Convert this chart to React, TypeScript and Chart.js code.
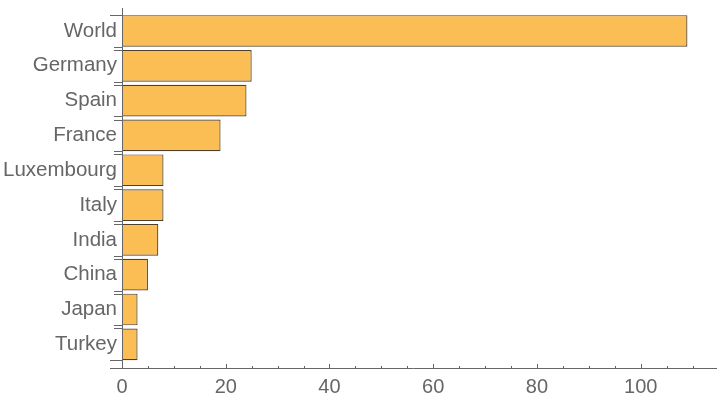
import React, { useEffect, useRef } from "react";
import { Chart, registerables } from "chart.js";

Chart.register(...registerables);

const categories = ["World", "Germany", "Spain", "France", "Luxembourg", "Italy", "India", "China", "Japan", "Turkey"];
const values = [109, 25, 24, 19, 8, 8, 7, 5, 3, 3];
const xTickValues = [0, 20, 40, 60, 80, 100];

const AXIS = "#666666";
const FONT = "'Liberation Sans', Arial, sans-serif";

const axesPlugin = {
  id: "mmaAxes",
  afterDatasetsDraw(chart: any) {
    const { ctx, chartArea } = chart;
    const xs = chart.scales.x;
    const x0 = xs.getPixelForValue(0);
    ctx.save();
    ctx.strokeStyle = AXIS;
    ctx.lineWidth = 1;
    const xl = Math.round(x0) + 0.5;
    // y axis line
    ctx.beginPath();
    ctx.moveTo(xl, chartArea.top);
    ctx.lineTo(xl, chartArea.bottom);
    ctx.stroke();
    // x axis line
    const yb = Math.round(chartArea.bottom) + 0.5;
    ctx.beginPath();
    ctx.moveTo(x0 - 12, yb);
    ctx.lineTo(chartArea.right, yb);
    ctx.stroke();
    // x ticks
    for (let v = 0; v <= xs.max; v += 5) {
      const px = Math.round(xs.getPixelForValue(v)) + 0.5;
      const len = v % 20 === 0 ? 4.5 : 2.5;
      ctx.beginPath();
      ctx.moveTo(px, yb);
      ctx.lineTo(px, yb - len);
      ctx.stroke();
    }
    // y boundary ticks at bar edges
    const meta = chart.getDatasetMeta(0);
    const n = meta.data.length;
    meta.data.forEach((bar: any, i: number) => {
      const h = bar.height;
      const top = bar.y - h / 2;
      const bot = bar.y + h / 2;
      const edges = [
        { y: top, long: i === 0 },
        { y: bot, long: i === n - 1 },
      ];
      edges.forEach((e) => {
        const py = Math.round(e.y) + 0.5;
        ctx.beginPath();
        ctx.moveTo(x0 - (e.long ? 12 : 8), py);
        ctx.lineTo(xl, py);
        ctx.stroke();
      });
    });
    ctx.restore();
  },
};

export default function App() {
  const ref = useRef<HTMLCanvasElement>(null);
  useEffect(() => {
    if (!ref.current) return;
    const chart = new Chart(ref.current, {
      type: "bar",
      data: {
        datasets: [
          {
            data: values.map((v, i) => ({ x: v, y: i })) as any,
            backgroundColor: "#FBBE55",
            borderColor: "#4f3f2a",
            borderWidth: 1.2,
            barPercentage: 0.91,
            categoryPercentage: 1,
          },
        ],
      },
      options: {
        indexAxis: "y",
        responsive: false,
        animation: false,
        maintainAspectRatio: false,
        layout: { padding: { top: 8, right: 3, left: 0, bottom: 0 } },
        plugins: { legend: { display: false }, tooltip: { enabled: false } },
        scales: {
          x: {
            type: "linear",
            min: 0,
            max: 114.7,
            offset: false,
            grid: { display: false, drawTicks: false },
            border: { display: false },
            afterBuildTicks: (s: any) => {
              s.ticks = xTickValues.map((v) => ({ value: v }));
            },
            afterFit: (s: any) => {
              s.height = 32;
            },
            ticks: {
              color: AXIS,
              font: { family: FONT, size: 20 },
              padding: 7,
              maxRotation: 0,
              autoSkip: false,
            },
          },
          y: {
            type: "linear",
            min: -0.66,
            max: 9.68,
            reverse: true,
            offset: false,
            grid: { display: false, drawTicks: false, offset: false },
            border: { display: false },
            afterBuildTicks: (s: any) => {
              s.ticks = categories.map((_, i) => ({ value: i }));
            },
            afterFit: (s: any) => {
              s.width = 122;
              s.paddingTop = 0;
              s.paddingBottom = 0;
            },
            ticks: {
              color: AXIS,
              font: { family: FONT, size: 20.5 },
              padding: 5,
              autoSkip: false,
              callback: (v: any) => categories[v as number] ?? "",
            },
          },
        },
      },
      plugins: [axesPlugin],
    });
    return () => chart.destroy();
  }, []);
  return (
    <div style={{ position: "fixed", left: 0, top: 0, width: 720, height: 400, background: "#fff" }}>
      <canvas ref={ref} width={720} height={400} />
    </div>
  );
}
